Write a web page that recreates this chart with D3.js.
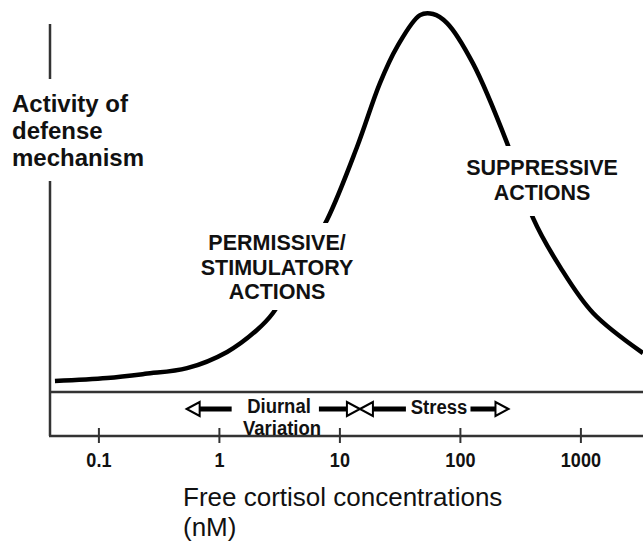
<!DOCTYPE html>
<html>
<head>
<meta charset="utf-8">
<script src="https://cdn.jsdelivr.net/npm/d3@7"></script>
<style>
  html, body { margin: 0; padding: 0; background: #fff; }
  svg { display: block; font-family: "Liberation Sans", Arial, Helvetica, sans-serif; }
</style>
</head>
<body>
<svg id="chart" width="643" height="541"></svg>
<script>
// ---- data ----
const concentration = [0.0436, 0.118, 0.244, 0.544, 1.17, 2.07, 2.81, 4.71, 7.89, 14.0, 21.7, 30.1, 46.7, 59.8, 78.2, 128, 246, 315, 405, 678, 1274, 3304];
const activity      = [2.9,    3.7,   4.8,   6.3,   10.6, 16.4, 20.9, 33.3, 45.5, 64.8, 81.7, 91.3, 99.7, 100,  97.6, 87.0, 65.9, 56.1, 46.0, 33.1, 20.9, 10.3];
const tickValues = [0.1, 1, 10, 100, 1000];
const tickLabels = ["0.1", "1", "10", "100", "1000"];
const diurnalRange = [0.54, 14.8];
const stressRange = [14.8, 253];
const yLabelLines = ["Activity of", "defense", "mechanism"];
const permissiveLines = ["PERMISSIVE/", "STIMULATORY", "ACTIONS"];
const suppressiveLines = ["SUPPRESSIVE", "ACTIONS"];
const xTitleLines = ["Free cortisol concentrations", "(nM)"];

// ---- scales ----
const x = d3.scaleLog().domain([0.1, 1000]).range([98.4, 580.4]);
const y = d3.scaleLinear().domain([0, 100]).range([392, 14]);

const svg = d3.select("#chart");
const axisColor = "#333";
const left = 50, right = 643, axisY = 436, baseY = y(0);

// axes lines
svg.append("line").attr("x1", left).attr("x2", left).attr("y1", 24).attr("y2", axisY)
  .attr("stroke", axisColor).attr("stroke-width", 2.5);
svg.append("line").attr("x1", left - 1).attr("x2", right).attr("y1", axisY).attr("y2", axisY)
  .attr("stroke", axisColor).attr("stroke-width", 2.5);
svg.append("line").attr("x1", left).attr("x2", right).attr("y1", baseY).attr("y2", baseY)
  .attr("stroke", axisColor).attr("stroke-width", 2.5);

// ticks via d3 axis
const xAxis = d3.axisBottom(x).tickValues(tickValues)
  .tickFormat((d, i) => tickLabels[i]).tickSize(15).tickPadding(9);
const gx = svg.append("g").attr("transform", `translate(0,${axisY - 8})`).call(xAxis);
gx.select(".domain").remove();
gx.selectAll(".tick line").attr("stroke", axisColor).attr("stroke-width", 2);
gx.selectAll(".tick text").attr("fill", "#111").attr("font-size", 21).attr("font-weight", "bold")
  .attr("font-family", "'Liberation Sans', Arial, sans-serif")
  .attr("transform", "scale(0.86,1)");

// curve
const pts = concentration.map((c, i) => [x(c), y(activity[i])]);
svg.append("path").attr("d", d3.line().curve(d3.curveCatmullRom.alpha(0.5))(pts))
  .attr("fill", "none").attr("stroke", "#000").attr("stroke-width", 4.5)
  .attr("stroke-linecap", "butt");

// text blocks with white masks
function textBlock(lines, opts) {
  const g = svg.append("g");
  g.append("rect").attr("x", opts.mask[0]).attr("y", opts.mask[1])
    .attr("width", opts.mask[2]).attr("height", opts.mask[3]).attr("fill", "#fff");
  lines.forEach((t, i) => {
    g.append("text").attr("x", opts.x).attr("y", opts.y + i * opts.lh)
      .attr("text-anchor", opts.anchor).attr("font-size", opts.size)
      .attr("font-weight", opts.weight).attr("fill", "#111").text(t);
  });
}
textBlock(yLabelLines, { x: 12, y: 112, lh: 27, anchor: "start", size: 24, weight: "bold", mask: [8, 79, 145, 102] });
textBlock(permissiveLines, { x: 277, y: 250, lh: 24.5, anchor: "middle", size: 21.5, weight: "bold", mask: [192, 223, 170, 87] });
textBlock(suppressiveLines, { x: 542, y: 175, lh: 25, anchor: "middle", size: 21.5, weight: "bold", mask: [458, 146, 170, 70] });
textBlock(xTitleLines, { x: 183, y: 506, lh: 30, anchor: "start", size: 26, weight: "normal", mask: [0, 0, 0, 0] });

// arrows
const arrowY = 409;
function bar(x1, x2) {
  svg.append("line").attr("x1", x1).attr("x2", x2).attr("y1", arrowY).attr("y2", arrowY)
    .attr("stroke", "#000").attr("stroke-width", 5);
}
function head(tipX, dir) { // dir -1 points left, +1 points right
  const L = 13, H = 7;
  svg.append("path")
    .attr("d", `M${tipX},${arrowY} L${tipX - dir * L},${arrowY - H} L${tipX - dir * L},${arrowY + H} Z`)
    .attr("fill", "#fff").attr("stroke", "#000").attr("stroke-width", 2).attr("stroke-linejoin", "miter");
}
const d0 = x(diurnalRange[0]), d1 = x(diurnalRange[1]);
const s0 = x(stressRange[0]), s1 = x(stressRange[1]);
bar(d0 + 13, d0 + 45); head(d0, -1);
bar(d1 - 41, d1 - 12); head(d1, 1);
bar(s0 + 13, s0 + 46); head(s0, -1);
bar(s1 - 38, s1 - 12); head(s1, 1);

function narrowText(tx, ty, t) {
  svg.append("g").attr("transform", `translate(${tx},${ty}) scale(0.88,1)`)
    .append("text").attr("x", 0).attr("y", 0).attr("text-anchor", "middle")
    .attr("font-size", 21).attr("font-weight", "bold").attr("fill", "#111").text(t);
}
narrowText(279, 413, "Diurnal");
narrowText(282, 435, "Variation");
narrowText(439, 414, "Stress");
</script>
</body>
</html>
